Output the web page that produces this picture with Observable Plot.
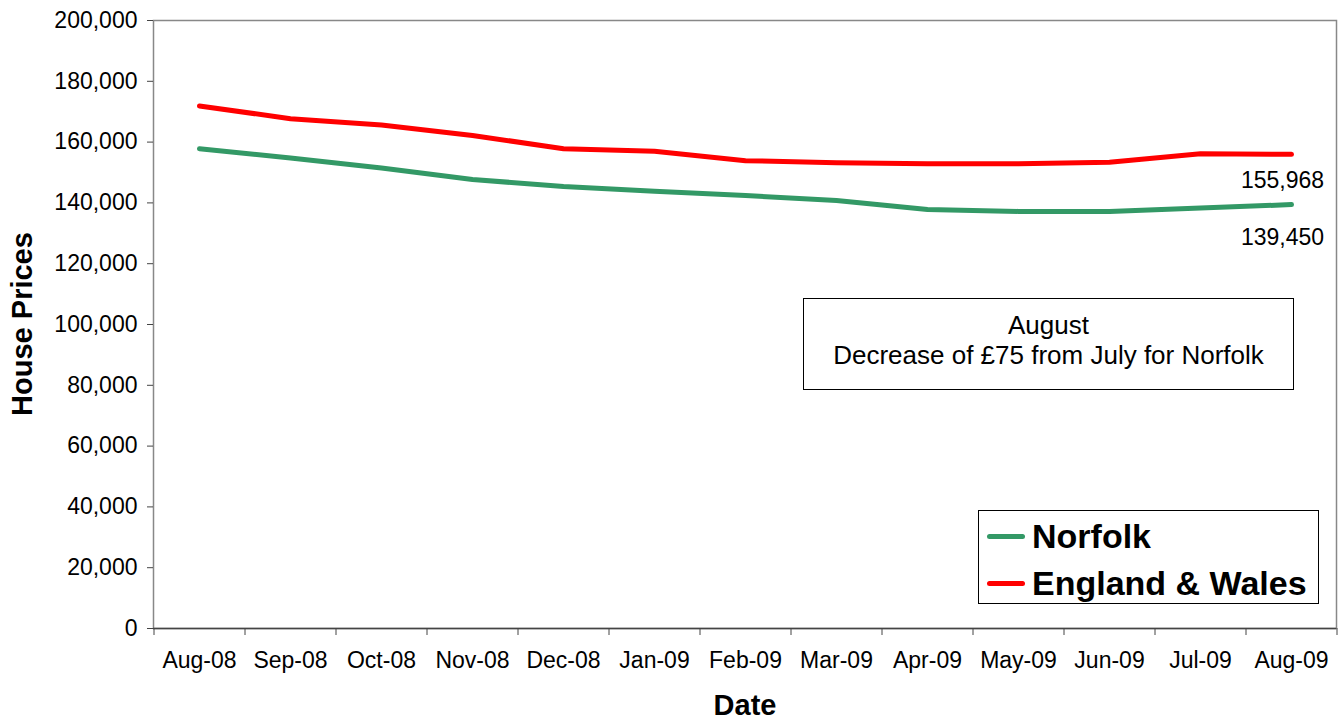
<!DOCTYPE html>
<html>
<head>
<meta charset="utf-8">
<script src="https://cdn.jsdelivr.net/npm/d3@7"></script>
<script src="https://cdn.jsdelivr.net/npm/@observablehq/plot@0.6"></script>
<style>
  html, body { margin: 0; padding: 0; background: #fff; }
  #wrap { position: relative; width: 1338px; height: 720px; font-family: "Liberation Sans", Arial, sans-serif; }
  #wrap svg { position: absolute; left: 0; top: 0; }
  #wrap svg [aria-label="x-axis label"] text { font-weight: bold; font-size: 29px; fill: #000; }
  .note { position: absolute; left: 803px; top: 298px; width: 489px; height: 90px; border: 1px solid #000;
          background: #fff; text-align: center; font-size: 26px; line-height: 30px; box-sizing: content-box; }
  .note div:first-child { margin-top: 11px; }
  .legend { position: absolute; left: 978px; top: 510px; width: 339px; height: 92px; border: 1px solid #000; background: #fff; }
  .legend .row { position: absolute; left: 8px; height: 40px; display: flex; align-items: center; font-weight: bold; font-size: 34px; color: #000; }
  .legend .sw { width: 38px; height: 5px; border-radius: 3px; margin-right: 7px; }
</style>
</head>
<body>
<div id="wrap"></div>
<script>
const months = ["Aug-08","Sep-08","Oct-08","Nov-08","Dec-08","Jan-09","Feb-09","Mar-09","Apr-09","May-09","Jun-09","Jul-09","Aug-09"];
const norfolk = [157800,154800,151500,147700,145400,143800,142400,140800,137800,137200,137200,138300,139450];
const englandWales = [171900,167700,165600,162200,157800,157000,153900,153200,152900,152900,153400,156200,155968];
const seriesNames = ["Norfolk","England & Wales"];
const seriesColors = ["#339966","#ff0000"];
const yTicks = [0,20000,40000,60000,80000,100000,120000,140000,160000,180000,200000];
const noteLines = ["August","Decrease of £75 from July for Norfolk"];
const xTitle = "Date";
const yTitle = "House Prices";

const rows = [];
months.forEach((m,i) => rows.push({month:m, value:norfolk[i], series:seriesNames[0]}));
months.forEach((m,i) => rows.push({month:m, value:englandWales[i], series:seriesNames[1]}));
const lastMonth = months[months.length-1];
const lastNorfolk = rows.filter(d => d.month === lastMonth && d.series === seriesNames[0]);
const lastEW = rows.filter(d => d.month === lastMonth && d.series === seriesNames[1]);

const W = 1338, H = 720, ML = 153, MR = 2, MT = 20, MB = 92;
const step = (W - ML - MR) / months.length;
const fmt = d3.format(",");

const chart = Plot.plot({
  width: W, height: H,
  marginLeft: ML, marginRight: MR, marginTop: MT, marginBottom: MB,
  style: {fontFamily: '"Liberation Sans", Arial, sans-serif', background: "#fff"},
  x: {type: "point", domain: months, padding: 0.5, align: 0.5},
  y: {domain: [0, 200000]},
  color: {domain: seriesNames, range: seriesColors},
  marks: [
    Plot.frame({stroke: "#888", strokeWidth: 1.5}),
    Plot.ruleY([0], {stroke: "#444", strokeWidth: 1.5}),
    Plot.axisY({ticks: yTicks, tickSize: 6, tickPadding: 10, fontSize: 23, stroke: "#444", color: "#000",
                tickFormat: fmt, label: null}),
    Plot.axisX({tickSize: 0, tickPadding: 23, fontSize: 23, color: "#000", label: xTitle, labelAnchor: "center", labelOffset: 86}),
    Plot.axisX({tickSize: 7, tickFormat: () => "", dx: -step / 2, stroke: "#444", label: null}),
    Plot.axisX({ticks: [lastMonth], tickSize: 7, tickFormat: () => "", dx: step / 2, stroke: "#444", label: null}),
    Plot.line(rows, {x: "month", y: "value", z: "series", stroke: "series", strokeWidth: 5, strokeLinecap: "round", strokeLinejoin: "round"}),
    Plot.text(lastEW, {x: "month", y: "value", text: d => fmt(d.value), fontSize: 23, fill: "#000", dx: -9, dy: 26}),
    Plot.text(lastNorfolk, {x: "month", y: "value", text: d => fmt(d.value), fontSize: 23, fill: "#000", dx: -9, dy: 33})
  ]
});

const wrap = document.getElementById("wrap");
wrap.appendChild(chart);

// y-axis title
d3.select(chart).append("text")
  .attr("transform", `translate(32,${(MT + H - MB) / 2}) rotate(-90)`)
  .attr("text-anchor", "middle")
  .attr("font-family", '"Liberation Sans", Arial, sans-serif')
  .attr("font-weight", "bold")
  .attr("font-size", 29)
  .attr("fill", "#000")
  .text(yTitle);

const note = document.createElement("div");
note.className = "note";
noteLines.forEach(t => { const d = document.createElement("div"); d.textContent = t; note.appendChild(d); });
wrap.appendChild(note);

const legend = document.createElement("div");
legend.className = "legend";
seriesNames.forEach((n,i) => {
  const r = document.createElement("div");
  r.className = "row";
  r.style.top = (5 + i * 47) + "px";
  const sw = document.createElement("span"); sw.className = "sw"; sw.style.background = seriesColors[i];
  const tx = document.createElement("span"); tx.textContent = n;
  r.appendChild(sw); r.appendChild(tx);
  legend.appendChild(r);
});
wrap.appendChild(legend);
</script>
</body>
</html>
